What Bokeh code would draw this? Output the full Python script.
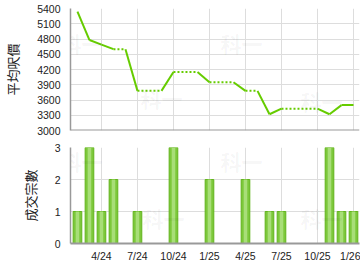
from bokeh.plotting import figure
from bokeh.layouts import column
from bokeh.models import ColumnDataSource, FixedTicker, Label, Span
from bokeh.embed import file_html
from bokeh.resources import INLINE

# month index: 0 = Jan 2024
tick_months = [3, 6, 9, 12, 15, 18, 21, 24]
tick_labels = ["4/24", "7/24", "10/24", "1/25", "4/25", "7/25", "10/25", "1/26"]

# average price per sq ft (months with transactions)
price_months = [1, 2, 3, 4, 6, 9, 12, 15, 17, 18, 22, 23, 24]
price_values = [5340, 4780, 4690, 4600, 3780, 4150, 3950, 3780, 3320, 3430, 3320, 3500, 3500]

# number of transactions
count_months = [1, 2, 3, 4, 6, 9, 12, 15, 17, 18, 22, 23, 24]
count_values = [1, 3, 1, 2, 1, 3, 2, 2, 1, 1, 3, 1, 1]

GREEN = "#66cc00"
FONT = "Liberation Sans"
CJK = "Noto Sans CJK TC"

# build solid / dotted segments: gap months carry previous value (dotted)
sx0, sy0, sx1, sy1 = [], [], [], []
dx0, dy0, dx1, dy1 = [], [], [], []
for i in range(len(price_months) - 1):
    a, b = price_months[i], price_months[i + 1]
    va, vb = price_values[i], price_values[i + 1]
    if b - a == 1:
        sx0.append(a); sy0.append(va); sx1.append(b); sy1.append(vb)
    else:
        dx0.append(a); dy0.append(va); dx1.append(b - 1); dy1.append(va)
        sx0.append(b - 1); sy0.append(va); sx1.append(b); sy1.append(vb)

x_range = (0.42, 24.5)


def style(p):
    p.outline_line_color = None
    p.background_fill_color = "white"
    p.border_fill_color = "white"
    p.xgrid.grid_line_color = "#dddddd"
    p.ygrid.grid_line_color = "#dddddd"
    p.xaxis.ticker = FixedTicker(ticks=tick_months)
    p.xgrid.ticker = FixedTicker(ticks=tick_months)
    p.xaxis.major_label_overrides = {m: l for m, l in zip(tick_months, tick_labels)}
    for ax in (p.xaxis[0], p.yaxis[0]):
        ax.major_tick_out = 0
        ax.major_tick_in = 0
        ax.minor_tick_line_color = None
        ax.major_tick_line_color = None
        ax.major_label_text_font = FONT
        ax.major_label_text_font_size = "10.5px"
        ax.major_label_text_color = "#222222"
        ax.axis_line_color = "#999999"
    p.xaxis.axis_line_width = 2
    p.yaxis.axis_line_width = 1.5
    p.yaxis.axis_label_text_font = CJK
    p.yaxis.axis_label_text_font_size = "13px"
    p.yaxis.axis_label_text_font_style = "normal"
    p.yaxis.axis_label_text_color = "#222222"
    p.yaxis.major_label_standoff = 10
    p.yaxis.axis_label_standoff = 12


def watermark(p, pts, y_of_px):
    for (px, py) in pts:
        p.add_layout(Label(x=(px - 60) / 12.0, y=y_of_px(py), text="科一",
                           text_font=value_font(CJK), text_font_size="21px", text_font_style="bold",
                           text_color="#000000", text_alpha=0.045, text_baseline="top"))


def value_font(f):
    return f


p1 = figure(frame_width=289, frame_height=122, output_backend="svg", toolbar_location=None,
            x_range=x_range, y_range=(3000, 5400),
            min_border_left=65, min_border_right=6, min_border_top=8, min_border_bottom=5)
style(p1)
p1.yaxis.ticker = FixedTicker(ticks=list(range(3000, 5401, 300)))
p1.yaxis.axis_label = "平均呎價"
p1.xaxis.visible = False
p1.add_layout(Span(location=3000, dimension="width", line_color="#999999", line_width=2))
watermark(p1, [(55, 27), (215, 27), (135, 82), (295, 85)], lambda py: 5400 - (py - 8) * 2400 / 122.0)

p1.segment(x0="x0", y0="y0", x1="x1", y1="y1",
           source=ColumnDataSource(dict(x0=dx0, y0=dy0, x1=dx1, y1=dy1)),
           line_color=GREEN, line_width=2, line_dash="2 2")
p1.segment(x0="x0", y0="y0", x1="x1", y1="y1",
           source=ColumnDataSource(dict(x0=sx0, y0=sy0, x1=sx1, y1=sy1)),
           line_color=GREEN, line_width=2)

p2 = figure(frame_width=289, frame_height=96, output_backend="svg", toolbar_location=None,
            x_range=x_range, y_range=(0, 3),
            min_border_left=65, min_border_right=6, min_border_top=12, min_border_bottom=27)
style(p2)
p2.yaxis.ticker = FixedTicker(ticks=[0, 1, 2, 3])
p2.yaxis.axis_label = "成交宗數"
p2.xaxis.major_label_standoff = 6
watermark(p2, [(55, 145), (215, 145), (137, 202), (295, 202)], lambda py: 3 - (py - 147) * 3 / 96.0)

src = ColumnDataSource(dict(x=count_months, top=count_values))
p2.vbar(x="x", top="top", width=0.72, bottom=0, source=src,
        fill_color="#7cc83a", line_color="#62b41c", line_width=1)
p2.vbar(x="x", top="top", width=0.3, bottom=0, source=src,
        fill_color="#a8de78", line_color=None)

layout = column(p1, p2, spacing=0)
open("out.html", "w").write(file_html(layout, INLINE))
